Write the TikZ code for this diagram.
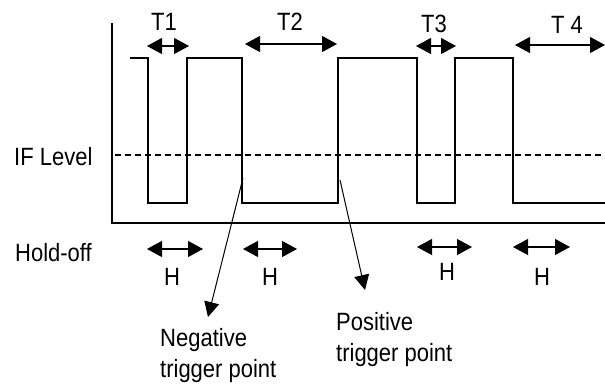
\documentclass[tikz,border=0pt]{standalone}
\usepackage{fontspec}
\setmainfont{Liberation Sans}
\usetikzlibrary{arrows.meta}
\begin{document}
\begin{tikzpicture}[x=1pt,y=-1pt,
  wave/.style={line width=1.4pt},
  dimarrow/.style={line width=1.2pt,{Triangle[length=15pt,width=16pt]}-{Triangle[length=15pt,width=16pt]}},
  lbl/.style={font=\fontsize{25}{31}\selectfont, inner sep=0pt, xscale=0.88},
  ptr/.style={line width=1pt,-{Triangle[length=15pt,width=15pt]}},
  level/.style={line width=1.2pt, dash pattern=on 6pt off 4pt}]
\useasboundingbox (0,0) rectangle (605,383);
% axes
\coordinate (ytop) at (112,23);
\coordinate (orig) at (112,223);
\coordinate (xend) at (605,223);
\draw[wave] (ytop) -- (orig) -- (xend);
% waveform
\coordinate (w0) at (130,58);
\coordinate (w1) at (148,58);
\coordinate (w2) at (148,203);
\coordinate (w3) at (187,203);
\coordinate (w4) at (187,58);
\coordinate (w5) at (242,58);
\coordinate (w6) at (242,203);
\coordinate (w7) at (338,203);
\coordinate (w8) at (338,58);
\coordinate (w9) at (417,58);
\coordinate (w10) at (417,203);
\coordinate (w11) at (455,203);
\coordinate (w12) at (455,58);
\coordinate (w13) at (513,58);
\coordinate (w14) at (513,203);
\coordinate (w15) at (605,203);
\draw[wave] (w0) -- (w1) -- (w2) -- (w3) -- (w4) -- (w5) -- (w6) -- (w7) -- (w8) -- (w9) -- (w10) -- (w11) -- (w12) -- (w13) -- (w14) -- (w15);
% IF level
\coordinate (ifa) at (115,155);
\coordinate (ifb) at (605,155);
\draw[level] (ifa) -- (ifb);
\node[lbl, anchor=west] (iflabel) at (14,157) {IF Level};
% T arrows
\coordinate (t1a) at (147,46); \coordinate (t1b) at (189,46);
\coordinate (t2a) at (245,44); \coordinate (t2b) at (337,44);
\coordinate (t3a) at (416,46); \coordinate (t3b) at (456,46);
\coordinate (t4a) at (515,45); \coordinate (t4b) at (605,45);
\draw[dimarrow] (t1a) -- (t1b);
\draw[dimarrow] (t2a) -- (t2b);
\draw[dimarrow] (t3a) -- (t3b);
\draw[dimarrow] (t4a) -- (t4b);
\node[lbl] (T1) at (164,22) {T1};
\node[lbl] (T2) at (290,22) {T2};
\node[lbl] (T3) at (434,24) {T3};
\node[lbl] (T4) at (567,25) {T 4};
% hold-off
\node[lbl, anchor=west] (hold) at (15,253) {Hold-off};
\coordinate (h1a) at (147,249); \coordinate (h1b) at (203,249);
\coordinate (h2a) at (243,249); \coordinate (h2b) at (297,249);
\coordinate (h3a) at (417,247); \coordinate (h3b) at (472,247);
\coordinate (h4a) at (513,247); \coordinate (h4b) at (570,247);
\draw[dimarrow] (h1a) -- (h1b);
\draw[dimarrow] (h2a) -- (h2b);
\draw[dimarrow] (h3a) -- (h3b);
\draw[dimarrow] (h4a) -- (h4b);
\node[lbl] (H1) at (172,277) {H};
\node[lbl] (H2) at (270,277) {H};
\node[lbl] (H3) at (447,272) {H};
\node[lbl] (H4) at (542,277) {H};
% trigger points
\coordinate (negs) at (243,178);
\coordinate (nege) at (208,317);
\coordinate (poss) at (340,180);
\coordinate (pose) at (365,290);
\draw[ptr] (negs) -- (nege);
\draw[ptr] (poss) -- (pose);
\node[lbl, anchor=north west, align=left] (neg) at (160,328) {Negative\\trigger point};
\node[lbl, anchor=north west, align=left] (pos) at (336,312) {Positive\\trigger point};
\end{tikzpicture}
\end{document}
